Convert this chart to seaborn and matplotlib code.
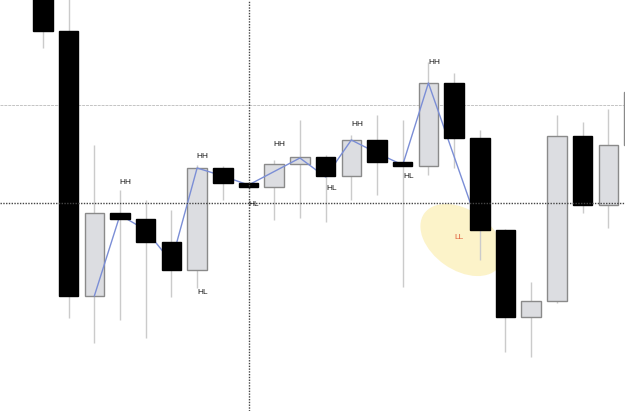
import matplotlib

matplotlib.use("Agg")
import matplotlib.pyplot as plt
import numpy as np
import pandas as pd
import seaborn as sns
from matplotlib.patches import Ellipse
from matplotlib.transforms import ScaledTranslation

# candle prices (arbitrary price units)
OPENS = [431, 380, 115, 198, 192, 169, 141, 243, 228, 224, 247, 254, 235, 271,
         249, 245, 328, 273, 181, 94, 110, 275, 206, 266]
CLOSES = [380, 115, 198, 192, 169, 141, 243, 228, 224, 247, 254, 235, 271, 249,
          245, 328, 273, 181, 94, 110, 275, 206, 266, 319]
HIGHS = [451, 421, 266, 221, 211, 201, 246, 245, 228, 251, 291, 256, 276, 296,
         291, 349, 338, 281, 182, 129, 296, 289, 302, 325]
LOWS = [363, 93, 68, 91, 73, 114, 123, 211, 222, 191, 193, 189, 211, 216,
        124, 236, 243, 151, 59, 54, 108, 198, 183, 260]

# zigzag through the swing points
ZIGZAG_BARS = [2, 3, 4, 5, 6, 7, 8, 10, 11, 12, 13, 14, 15, 17]
ZIGZAG_PRICES = [115, 196, 181, 149, 243, 235, 226, 253, 234, 271, 258, 246, 328, 181]

SWING_LABELS = ["HH", "HH", "HL", "HL", "HH", "HL", "HH", "HL", "HH"]
SWING_BARS = [3, 6, 6, 8, 9, 11, 12, 14, 15]
SWING_PRICES = [229, 254, 119, 206, 267, 222, 287, 234, 349]

LL_BAR = 16
LL_PRICE = 174

CROSS_BAR = 8
CROSS_PRICE = 208
LEVEL_PRICE = 306

sns.set_theme(style="white")

df = pd.DataFrame({"open": OPENS, "close": CLOSES, "high": HIGHS, "low": LOWS})
df["bar"] = np.arange(len(df))
df["bull"] = df["close"] >= df["open"]
df["bottom"] = df[["open", "close"]].min(axis=1)
df["size"] = (df["close"] - df["open"]).abs()

fig = plt.figure(figsize=(6.25, 4.11), dpi=100)
ax = fig.add_axes([0, 0, 1, 1])

# highlight behind the LL swing
center = ScaledTranslation(LL_BAR + 0.3, LL_PRICE - 3, ax.transData)
ax.add_patch(Ellipse((0, 0), 0.92, 0.6, angle=-35, facecolor="#fcf3c9",
                     edgecolor="none", transform=fig.dpi_scale_trans + center, zorder=0.5))

ax.axhline(LEVEL_PRICE, color="#c4c4c4", linewidth=0.7, linestyle=(0, (3, 1)), zorder=1)

ax.vlines(df["bar"], df["low"], df["high"], color="#cbcbcb", linewidth=1, zorder=1.5)

up = df[df["bull"]]
down = df[~df["bull"]]
ax.bar(up["bar"], up["size"], bottom=up["bottom"], width=0.76, color="#dcdde1",
       edgecolor="#8a8a8a", linewidth=1, zorder=2)
sns.lineplot(x=ZIGZAG_BARS, y=ZIGZAG_PRICES, ax=ax, color="#7b8ed6", linewidth=1,
             sort=False, zorder=3)
ax.bar(down["bar"], down["size"], bottom=down["bottom"], width=0.76, color="black",
       edgecolor="black", linewidth=1, zorder=4)

# crosshair
ax.axhline(CROSS_PRICE, color="#444444", linewidth=1, linestyle=(0, (1, 1)), zorder=5)
ax.axvline(CROSS_BAR, color="#444444", linewidth=1, linestyle=(0, (1, 1)), zorder=5)

for label, bar, price in zip(SWING_LABELS, SWING_BARS, SWING_PRICES):
    ax.text(bar + 0.22, price, label, fontsize=6, ha="center", va="center",
            color="#1a1a1a", family="Liberation Sans", zorder=6)
ax.text(LL_BAR + 0.21, LL_PRICE, "LL", fontsize=6, ha="center", va="center",
        color="#e0603c", family="Liberation Sans", zorder=6)

ax.set_xlim(-1.67, 22.65)
ax.set_ylim(0, 411)
ax.axis("off")

fig.savefig("out.png", dpi=100)
